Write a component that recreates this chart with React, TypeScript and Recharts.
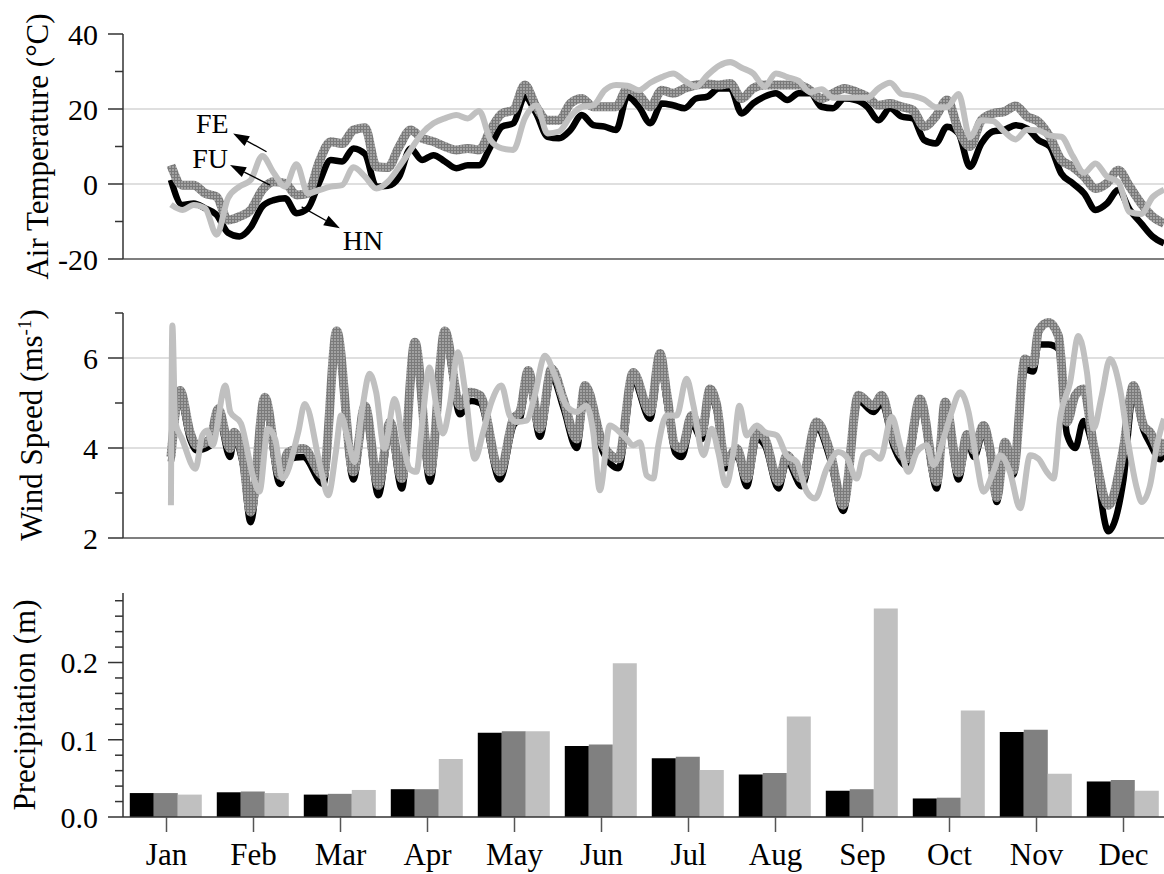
import React from 'react'
import { LineChart, Line, BarChart, Bar, XAxis, YAxis, CartesianGrid, ReferenceLine, ReferenceDot } from 'recharts'

const FONT = '"Liberation Serif", "Times New Roman", serif'
const AXIS = '#333'
const GRID = '#d4d4d4'

const HN_COLOR = '#000000'
const FU_COLOR = '#808080'
const FE_COLOR = '#c0c0c0'

const MONTHS = ['Jan', 'Feb', 'Mar', 'Apr', 'May', 'Jun', 'Jul', 'Aug', 'Sep', 'Oct', 'Nov', 'Dec']
// day-of-year of the first of each month
const MONTH_START_DAYS = [1, 32, 60, 91, 121, 152, 182, 213, 244, 274, 305, 335]

// daily air temperature, sampled every 4 days (°C)
const TEMP_DAYS = [
  1, 5, 9, 13, 17, 21, 25, 29, 33, 37, 41, 45, 49, 53, 57, 61, 65, 69, 73, 77, 81, 85,
  89, 93, 97, 101, 105, 109, 113, 117, 121, 125, 129, 133, 137, 141, 145, 149, 153, 157, 161, 165,
  169, 173, 177, 181, 185, 189, 193, 197, 201, 205, 209, 213, 217, 221, 225, 229, 233, 237, 241, 245,
  249, 253, 257, 261, 265, 269, 273, 277, 281, 285, 289, 293, 297, 301, 305, 309, 313, 317, 321, 325,
  329, 333, 337, 341, 345, 349,
]
const HN_TEMP = [
  1.1, -5.6, -5.2, -6.5, -8.2, -13, -14, -11.5, -6, -4.3, -3.8, -7.8, -6.5, 0.5, 6.4, 6, 9.5, 8, -0.7, -0.5, 2, 9.5,
  6.4, 7.7, 6, 4.2, 5, 5, 10, 15.3, 16.2, 23.3, 18.8, 12.6, 12.2, 14.4, 18.4, 15.7, 15.3, 14.4, 23.3, 20.6,
  16.2, 21.5, 21, 20.2, 22.8, 23.3, 25.5, 25.5, 18.8, 21.5, 23.3, 24.2, 22.4, 24.2, 24.2, 20.6, 20.2, 22.8, 22.4, 20.6,
  17, 20.2, 18, 17.5, 11.7, 10.8, 15.3, 13.5, 4.6, 10.8, 14, 14.4, 15.7, 14.8, 11.7, 10, 2.8, 0.2, -2.5, -6.9,
  -5.2, -1.6, -6.9, -10.5, -14, -15.8,
]
const FU_TEMP = [
  5, -0.3, -0.3, -2.5, -3.4, -9.6, -8.7, -6.9, -1.6, 0.6, 0.2, -2.9, -2.5, 6, 11.3, 10.8, 14.4, 15, 4.6, 4.4, 10, 14.4,
  12.2, 11.3, 10, 9.1, 9.5, 9.1, 14.4, 18.8, 19.7, 26.4, 20.6, 17, 17, 21.5, 22.8, 20.6, 20.6, 20.6, 25.5, 23.7,
  20.6, 25, 24.2, 25.5, 26.4, 26.7, 26.4, 26.8, 22.8, 25.5, 26.4, 26.4, 26.4, 26.4, 25, 22.8, 24.2, 25.5, 24.6, 23.3,
  21, 21.5, 20.6, 19.7, 15.3, 18, 22.4, 14.4, 10, 17, 18.8, 19.3, 20.8, 18, 16.6, 12.6, 6.4, 4.6, 2, -1.2,
  0.2, 3.7, -0.7, -5.2, -8.7, -10.5,
]
const FE_TEMP = [
  -5.5, -6.9, -5.6, -6.5, -13.5, -3.8, -0.7, 1.1, 7.5, 3, -0.7, 5.3, -2.5, -1.6, -0.7, -0.3, 4.5, 2, -1.2, 0.6, 4.6, 9.1,
  13.5, 16.2, 17.5, 18.4, 17.5, 19.5, 11.7, 9.5, 9.1, 17.5, 21, 13.5, 14, 18, 20.6, 21, 25, 26.4, 26.2, 25,
  27, 28.5, 29.5, 27.5, 26, 29, 31.5, 32.5, 31, 29.5, 26, 29.5, 28.5, 27.5, 24.5, 25.3, 23, 23, 23, 23,
  25.5, 27, 24, 23.5, 22.5, 20.5, 20.5, 24, 12.5, 17, 16.8, 14, 11.9, 14.5, 14.3, 12.9, 12.6, 7.5, 3, 5.5,
  2, 0.5, -7.5, -8, -3.5, -1.5,
]

// wind speed (m/s) at turning points of each record
const FU_WIND_DAYS = [
  1, 4.2, 7.7, 10, 14.7, 17.6, 21.7, 23.1, 26.3, 28.9,
  33.9, 39.2, 42.1, 47.4, 54.4, 59.1, 64.9, 69, 73.7, 77.8,
  81.9, 86.5, 91.8, 97, 102.3, 105.8, 109.3, 116.3, 121, 123.3,
  126.2, 130.3, 134.4, 138.5, 143.2, 146.1, 152.5, 157.8, 163, 168.9,
  172.4, 174.7, 177.7, 180, 183.5, 187, 189.9, 192.3, 195.2, 199.3,
  202.8, 206.3, 209.2, 213.9, 216.8, 222.1, 227.3, 232, 236.6, 241.9,
  247.2, 250.1, 254.2, 258.9, 263.5, 269.4, 272.3, 277, 280, 282.5,
  285.7, 288.1, 290.4, 293.3, 296.2, 300.3, 303.2, 305, 308.5, 312,
  315, 317.9, 320.8, 324.3, 329.5, 334.8, 338.3, 341.8, 344.1, 347.7,
  349,
]
const FU_WIND = [
  3.8, 5.28, 4.35, 4.06, 4.2, 4.87, 3.99, 4.35, 3.76, 2.58,
  5.13, 3.39, 3.91, 3.99, 3.39, 6.6, 3.47, 4.94, 3.17, 4.58,
  3.32, 6.35, 3.47, 6.6, 4.94, 5.24, 5.17, 3.47, 4.65, 4.8,
  5.72, 4.43, 5.76, 5.09, 4.2, 5.39, 4.06, 3.76, 5.68, 4.8,
  6.1, 5.24, 4.06, 3.99, 4.72, 4.35, 5.31, 4.94, 3.69, 3.99,
  3.32, 4.35, 4.2, 3.25, 3.84, 3.32, 4.58, 3.91, 2.73, 5.17,
  4.94, 5.17, 4.2, 3.76, 5.09, 3.25, 5.02, 3.45, 4.3, 3.95,
  4.5, 3.95, 2.9, 4.13, 3.5, 5.98, 5.87, 6.6, 6.79, 6.49,
  4.58, 5.17, 5.31, 4.06, 2.73, 3.99, 5.39, 4.5, 4.35, 3.91,
  4.2,
]
// HN shares the FU sampling days
const HN_WIND = [
  3.7, 5.1, 4.2, 3.95, 4.05, 4.7, 3.8, 4.2, 3.6, 2.35,
  4.95, 3.2, 3.75, 3.8, 3.2, 6.4, 3.3, 4.8, 2.95, 4.4,
  3.1, 6.15, 3.25, 6.45, 4.75, 5.05, 5.0, 3.3, 4.5, 4.65,
  5.55, 4.25, 5.6, 4.9, 4.0, 5.2, 3.9, 3.55, 5.5, 4.65,
  5.9, 5.05, 3.9, 3.8, 4.55, 4.2, 5.15, 4.8, 3.55, 3.85,
  3.15, 4.2, 4.05, 3.1, 3.7, 3.15, 4.45, 3.75, 2.6, 5.05,
  4.8, 5.0, 4.05, 3.6, 4.95, 3.1, 4.85, 3.3, 4.15, 3.8,
  4.35, 3.8, 2.8, 4.0, 3.4, 5.75, 5.7, 6.3, 6.3, 6.2,
  4.3, 4.0, 4.6, 3.95, 2.15, 3.3, 5.2, 4.4, 4.1, 3.75,
  4.0,
]
const FE_WIND_DAYS = [
  1, 1.5, 2.5, 4.9, 9.6, 12, 13.7, 15.5, 20.1, 21.8,
  25.5, 29.7, 32, 35, 37.5, 40.1, 45.6, 47.9, 53.5, 56.1,
  58.8, 60.6, 63, 65.3, 68.2, 70.6, 72.9, 75.8, 79.4, 82.3,
  84.6, 87, 89.3, 91.6, 94, 96.3, 98.7, 101.6, 104, 107.5,
  110.4, 113.3, 116.8, 119.7, 122.1, 125.6, 128.5, 132, 135.6, 139.6,
  143.1, 146.6, 149, 151.3, 154.8, 158.3, 160.7, 163, 165.4, 167.7,
  170, 171.8, 174.7, 178.2, 181.7, 184.1, 187.6, 190.5, 192.8, 195.5,
  198.1, 200.2, 202.8, 206.3, 209.2, 213.3, 216.7, 220.3, 223.8, 226.7,
  230.8, 234.9, 237.8, 241.3, 243.7, 246, 249.5, 253.6, 256.5, 259.4,
  262.4, 265.9, 268.2, 271.7, 274.6, 277.6, 280.5, 283.4, 285.7, 289.2,
  291.6, 295, 298.6, 302.1, 305, 307.9, 310.3, 312.6, 316.1, 319,
  322, 324.3, 327.2, 330.1, 333.6, 336.6, 339.5, 341.2, 344.1, 346.5,
  349,
]
const FE_WIND = [
  2.73, 6.72, 4.58, 4.2, 3.54, 4.28, 4.39, 4.06, 5.39, 4.8,
  4.55, 3.39, 3.03, 4.43, 4.2, 3.32, 4.35, 4.98, 3.54, 2.95,
  3.91, 4.72, 4.2, 3.69, 4.94, 5.65, 5.24, 3.99, 5.09, 4.13,
  3.54, 3.47, 4.72, 5.79, 4.94, 4.32, 4.94, 6.13, 5.31, 3.76,
  4.35, 5.02, 5.39, 4.72, 4.58, 4.61, 5.17, 6.05, 5.61, 4.94,
  4.8, 4.94, 4.35, 3.06, 4.5, 4.35, 4.2, 4.06, 4.13, 3.39,
  3.32, 4.06, 4.72, 4.72, 5.54, 4.94, 3.84, 4.43, 3.91, 3.17,
  3.91, 4.94, 4.28, 4.5, 4.35, 4.28, 3.84, 3.69, 3.03, 2.88,
  3.54, 3.91, 3.8, 3.32, 3.84, 3.91, 3.76, 4.69, 4.06, 3.47,
  3.91, 4.06, 3.62, 4.2, 4.8, 5.24, 4.8, 3.69, 3.03, 3.47,
  3.84, 3.47, 2.66, 3.84, 3.76, 3.47, 3.32, 4.65, 5.46, 6.49,
  5.68, 4.43, 5.17, 5.98, 5.31, 4.06, 3.1, 2.8, 3.17, 4.06,
  4.65,
]

// monthly precipitation totals (m)
const HN_PRECIP = [0.031, 0.032, 0.029, 0.036, 0.109, 0.092, 0.076, 0.055, 0.034, 0.024, 0.11, 0.046]
const FU_PRECIP = [0.031, 0.033, 0.03, 0.036, 0.111, 0.094, 0.078, 0.057, 0.036, 0.025, 0.113, 0.048]
const FE_PRECIP = [0.029, 0.031, 0.035, 0.075, 0.111, 0.199, 0.061, 0.13, 0.27, 0.138, 0.056, 0.034]

const TEMP_TICKS = [-20, -10, 0, 10, 20, 30, 40]
const WIND_TICKS = [2, 3, 4, 5, 6, 7]
const PRECIP_TICKS = [0, 0.02, 0.04, 0.06, 0.08, 0.1, 0.12, 0.14, 0.16, 0.18, 0.2, 0.22, 0.24, 0.26, 0.28]

const tempRows = TEMP_DAYS.map((day, i) => ({ day, hn: HN_TEMP[i], fu: FU_TEMP[i], fe: FE_TEMP[i] }))
const fuWindRows = FU_WIND_DAYS.map((day, i) => ({ day, v: FU_WIND[i] }))
const hnWindRows = FU_WIND_DAYS.map((day, i) => ({ day, v: HN_WIND[i] }))
const feWindRows = FE_WIND_DAYS.map((day, i) => ({ day, v: FE_WIND[i] }))
const precipRows = MONTHS.map((month, i) => ({ month, hn: HN_PRECIP[i], fu: FU_PRECIP[i], fe: FE_PRECIP[i] }))

const DAY_DOMAIN: [number, number] = [-15.8, 349]

// left axis tick: long tick + label for majors, short tick for minors
function yTick(majors: number[], fmt: (v: number) => string) {
  return (props: any) => {
    const { x, y, payload } = props
    const v = Number(payload.value)
    const major = majors.some((m) => Math.abs(m - v) < 1e-6)
    return (
      <g>
        <line x1={x - (major ? 15 : 8)} y1={y} x2={x} y2={y} stroke={AXIS} strokeWidth={1.5} />
        {major && (
          <text x={x - 25} y={y} dy="0.36em" textAnchor="end" fontSize={30} fontFamily={FONT} fill="#000">
            {fmt(v)}
          </text>
        )}
      </g>
    )
  }
}

const ArrowShape = (props: any) => {
  const { x1, y1, x2, y2 } = props
  const a = Math.atan2(y2 - y1, x2 - x1)
  const len = 16
  const half = 5.5
  const bx = x2 - len * Math.cos(a)
  const by = y2 - len * Math.sin(a)
  const pts = [
    `${x2},${y2}`,
    `${bx + half * Math.sin(a)},${by - half * Math.cos(a)}`,
    `${bx - half * Math.sin(a)},${by + half * Math.cos(a)}`,
  ].join(' ')
  return (
    <g>
      <line x1={x1} y1={y1} x2={bx} y2={by} stroke="#000" strokeWidth={1.3} />
      <polygon points={pts} fill="#000" />
    </g>
  )
}

const seriesLabel = (text: string) => (p: any) => (
  <text x={p.cx} y={p.cy} textAnchor="middle" fontSize={28} fontFamily={FONT} fill="#000">
    {text}
  </text>
)

const dayAxis = (
  <XAxis
    type="number"
    dataKey="day"
    domain={DAY_DOMAIN}
    ticks={MONTH_START_DAYS}
    allowDataOverflow
    tick={false}
    tickSize={14}
    height={31}
    axisLine={{ stroke: '#555', strokeWidth: 1.5 }}
    tickLine={{ stroke: '#555', strokeWidth: 1.5 }}
  />
)

export default function App() {
  return (
    <div
      style={{
        position: 'absolute',
        left: 0,
        top: 0,
        width: 1164,
        height: 874,
        overflow: 'hidden',
        background: '#fff',
        fontFamily: FONT,
      }}
    >
      <svg width={0} height={0} style={{ position: 'absolute' }}>
        <defs>
          <pattern id="fuTexture" width={3} height={3} patternUnits="userSpaceOnUse">
            <rect width={3} height={3} fill="#a2a2a2" />
            <rect width={3} height={1} fill="#7a7a7a" />
            <rect width={1} height={3} fill="#7a7a7a" />
          </pattern>
        </defs>
      </svg>

      {/* air temperature */}
      <div style={{ position: 'absolute', left: 0, top: 0 }}>
        <LineChart width={1164} height={290} data={tempRows} margin={{ top: 34, right: 0, bottom: 0, left: 0 }}>
          <CartesianGrid vertical={false} horizontalValues={[0, 20]} stroke={GRID} strokeWidth={1.5} />
          {dayAxis}
          <YAxis
            type="number"
            domain={[-20, 40]}
            ticks={TEMP_TICKS}
            interval={0}
            width={123}
            tickSize={0}
            tickMargin={0}
            tickLine={false}
            axisLine={{ stroke: AXIS, strokeWidth: 1.5 }}
            tick={yTick([-20, 0, 20, 40], (v) => String(v))}
          />
          <Line type="monotone" dataKey="hn" stroke={HN_COLOR} strokeWidth={6.5} dot={false} isAnimationActive={false} />
          <Line type="monotone" dataKey="fu" stroke="url(#fuTexture)" strokeWidth={9} dot={false} isAnimationActive={false} />
          <Line type="monotone" dataKey="fe" stroke={FE_COLOR} strokeWidth={6} dot={false} isAnimationActive={false} />
          <ReferenceLine segment={[{ x: 34.5, y: 8.6 }, { x: 22.8, y: 13.5 }]} shape={ArrowShape} />
          <ReferenceLine segment={[{ x: 35.7, y: -0.3 }, { x: 21.7, y: 5.1 }]} shape={ArrowShape} />
          <ReferenceLine segment={[{ x: 46.8, y: -6.1 }, { x: 60.2, y: -11.8 }]} shape={ArrowShape} />
          <ReferenceDot x={15.5} y={13.6} r={0} shape={seriesLabel('FE')} />
          <ReferenceDot x={14.7} y={4.3} r={0} shape={seriesLabel('FU')} />
          <ReferenceDot x={68.3} y={-17.6} r={0} shape={seriesLabel('HN')} />
        </LineChart>
      </div>

      {/* wind speed */}
      <div style={{ position: 'absolute', left: 0, top: 281 }}>
        <LineChart width={1164} height={288} margin={{ top: 32, right: 0, bottom: 0, left: 0 }}>
          <CartesianGrid vertical={false} horizontalValues={[4, 6]} stroke={GRID} strokeWidth={1.5} />
          {dayAxis}
          <YAxis
            type="number"
            domain={[2, 7]}
            ticks={WIND_TICKS}
            interval={0}
            width={123}
            tickSize={0}
            tickMargin={0}
            tickLine={false}
            axisLine={{ stroke: AXIS, strokeWidth: 1.5 }}
            tick={yTick([2, 4, 6], (v) => String(v))}
          />
          <Line data={hnWindRows} type="monotone" dataKey="v" stroke={HN_COLOR} strokeWidth={6.5} dot={false} isAnimationActive={false} />
          <Line data={fuWindRows} type="monotone" dataKey="v" stroke="url(#fuTexture)" strokeWidth={9} dot={false} isAnimationActive={false} />
          <Line data={feWindRows} type="monotone" dataKey="v" stroke={FE_COLOR} strokeWidth={6} dot={false} isAnimationActive={false} />
        </LineChart>
      </div>

      {/* precipitation */}
      <div style={{ position: 'absolute', left: 0, top: 560 }}>
        <BarChart
          width={1167}
          height={314}
          data={precipRows}
          margin={{ top: 33, right: 0, bottom: 0, left: 0 }}
          barCategoryGap="7.8%"
          barGap={0}
        >
          <XAxis
            dataKey="month"
            interval={0}
            height={57}
            tickSize={15}
            tickMargin={11}
            axisLine={{ stroke: AXIS, strokeWidth: 1.5 }}
            tickLine={{ stroke: '#555', strokeWidth: 1.5 }}
            tick={{ fontSize: 31, fill: '#000', fontFamily: FONT }}
          />
          <YAxis
            type="number"
            domain={[0, 0.29]}
            ticks={PRECIP_TICKS}
            interval={0}
            width={123}
            tickSize={0}
            tickMargin={0}
            tickLine={false}
            axisLine={{ stroke: AXIS, strokeWidth: 1.5 }}
            tick={yTick([0, 0.1, 0.2], (v) => v.toFixed(1))}
          />
          <Bar dataKey="hn" fill={HN_COLOR} isAnimationActive={false} />
          <Bar dataKey="fu" fill={FU_COLOR} isAnimationActive={false} />
          <Bar dataKey="fe" fill={FE_COLOR} isAnimationActive={false} />
        </BarChart>
      </div>

      {/* axis titles */}
      <svg
        width={1164}
        height={874}
        style={{ position: 'absolute', left: 0, top: 0, pointerEvents: 'none' }}
        fontFamily={FONT}
        fontSize={31}
      >
        <text x={48} y={146.5} transform="rotate(-90 48 146.5)" textAnchor="middle" fill="#000">
          Air Temperature (°C)
        </text>
        <text x={42} y={425} transform="rotate(-90 42 425)" textAnchor="middle" fill="#000">
          Wind Speed (ms
          <tspan dy={-11} fontSize={19}>-1</tspan>
          <tspan dy={11}>)</tspan>
        </text>
        <text x={35} y={705} transform="rotate(-90 35 705)" textAnchor="middle" fill="#000">
          Precipitation (m)
        </text>
      </svg>
    </div>
  )
}
